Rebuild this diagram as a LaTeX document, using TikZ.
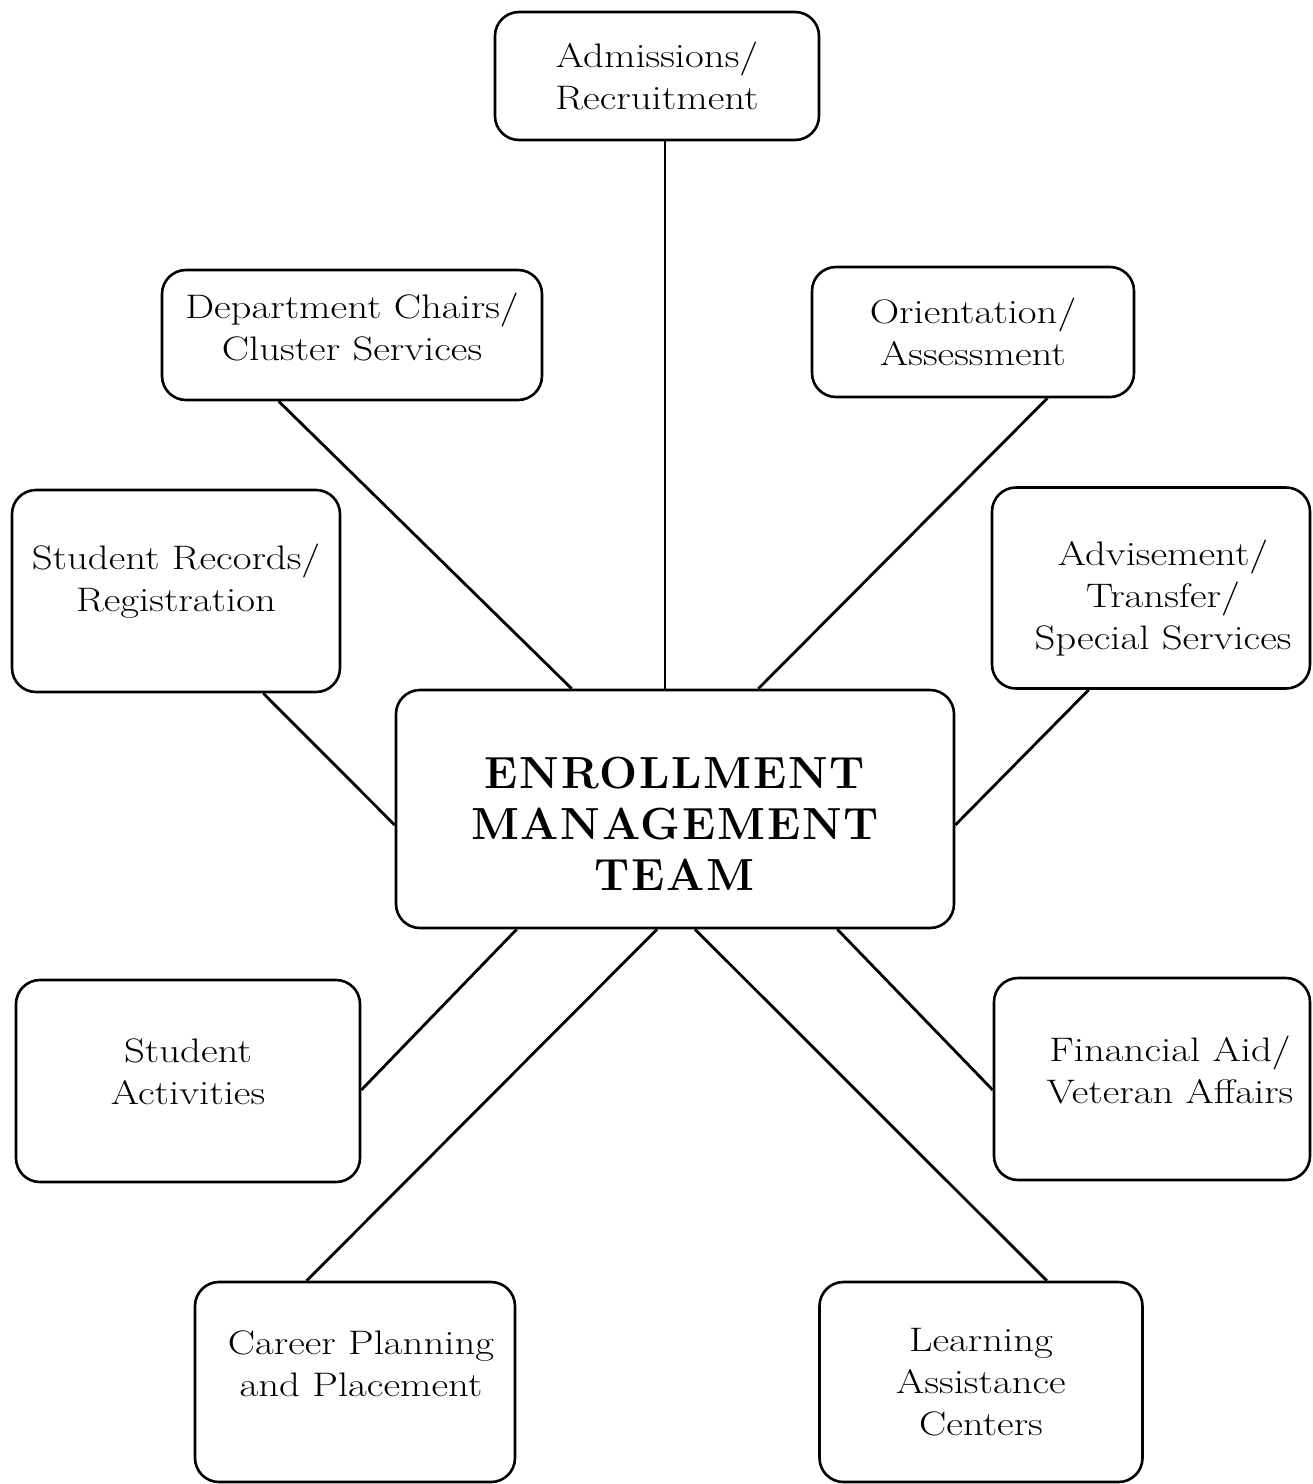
\documentclass[tikz,border=0pt]{standalone}
\usepackage{fontspec}
\setmainfont{Latin Modern Roman}[FakeStretch=1.2]
\newfontfamily\emtfont{Latin Modern Roman}[LetterSpace=4]
\newcommand\txdn[1]{\rule{0pt}{#1}}
\newcommand\txup[1]{\rule[-#1]{0pt}{0pt}}
\tikzset{
  box/.style={draw, line width=2.6pt, rounded corners=24pt, inner sep=0pt,
    align=center, font=\fontsize{34}{42}\selectfont},
  link/.style={line width=2.8pt}
}
\begin{document}
\begin{tikzpicture}[x=1pt,y=-1pt]
\useasboundingbox (0,0) rectangle (1313,1484);
\node[box, minimum width=324pt, minimum height=128pt] (adm) at (657,76) {Admissions/\\Recruitment};
\node[box, minimum width=380pt, minimum height=130pt] (dept) at (352,335) {Department Chairs/\\Cluster Services\txup{16pt}};
\node[box, minimum width=322pt, minimum height=130pt] (orient) at (973,332) {Orientation/\\Assessment};
\node[box, minimum width=328pt, minimum height=202pt] (rec) at (176,591) {Student Records/\\Registration\txup{27pt}};
\node[box, minimum width=318pt, minimum height=201pt] (adv) at (1151,588) {\txdn{46pt}\hspace*{24pt}Advisement/\\\hspace*{24pt}Transfer/\\\hspace*{24pt}Special Services};
\node[box, minimum width=558pt, minimum height=238pt,
  font=\fontsize{45}{51}\selectfont\emtfont\bfseries] (emt) at (675,809) {\txdn{60pt}ENROLLMENT\\MANAGEMENT\\TEAM};
\node[box, minimum width=344pt, minimum height=202pt] (act) at (188,1081) {Student\\Activities\txup{18pt}};
\node[box, minimum width=316pt, minimum height=202pt] (fin) at (1152,1079) {\hspace*{36pt}Financial Aid/\\\hspace*{36pt}Veteran Affairs\txup{18pt}};
\node[box, minimum width=320pt, minimum height=200pt] (car) at (355,1382) {\hspace*{12pt}Career Planning\\\hspace*{12pt}and Placement\txup{37pt}};
\node[box, minimum width=323pt, minimum height=200pt] (learn) at (981,1382) {Learning\\Assistance\\Centers};

\draw[link] ([xshift=8pt]adm.south) -- ([xshift=-10pt]emt.north);
\draw[link] ([xshift=118pt]dept.south west) -- ([xshift=177pt]emt.north west);
\draw[link] ([xshift=-88pt]orient.south east) -- ([xshift=-197pt]emt.north east);
\draw[link] ([xshift=-78pt]rec.south east) -- ([yshift=-16pt]emt.west);
\draw[link] ([xshift=98pt]adv.south west) -- ([yshift=-16pt]emt.east);
\draw[link] ([yshift=-9pt]act.east) -- ([xshift=122pt]emt.south west);
\draw[link] ([yshift=-11pt]fin.west) -- ([xshift=-118pt]emt.south east);
\draw[link] ([xshift=113pt]car.north west) -- ([xshift=-18pt]emt.south);
\draw[link] ([xshift=-97pt]learn.north east) -- ([xshift=20pt]emt.south);
\end{tikzpicture}
\end{document}
